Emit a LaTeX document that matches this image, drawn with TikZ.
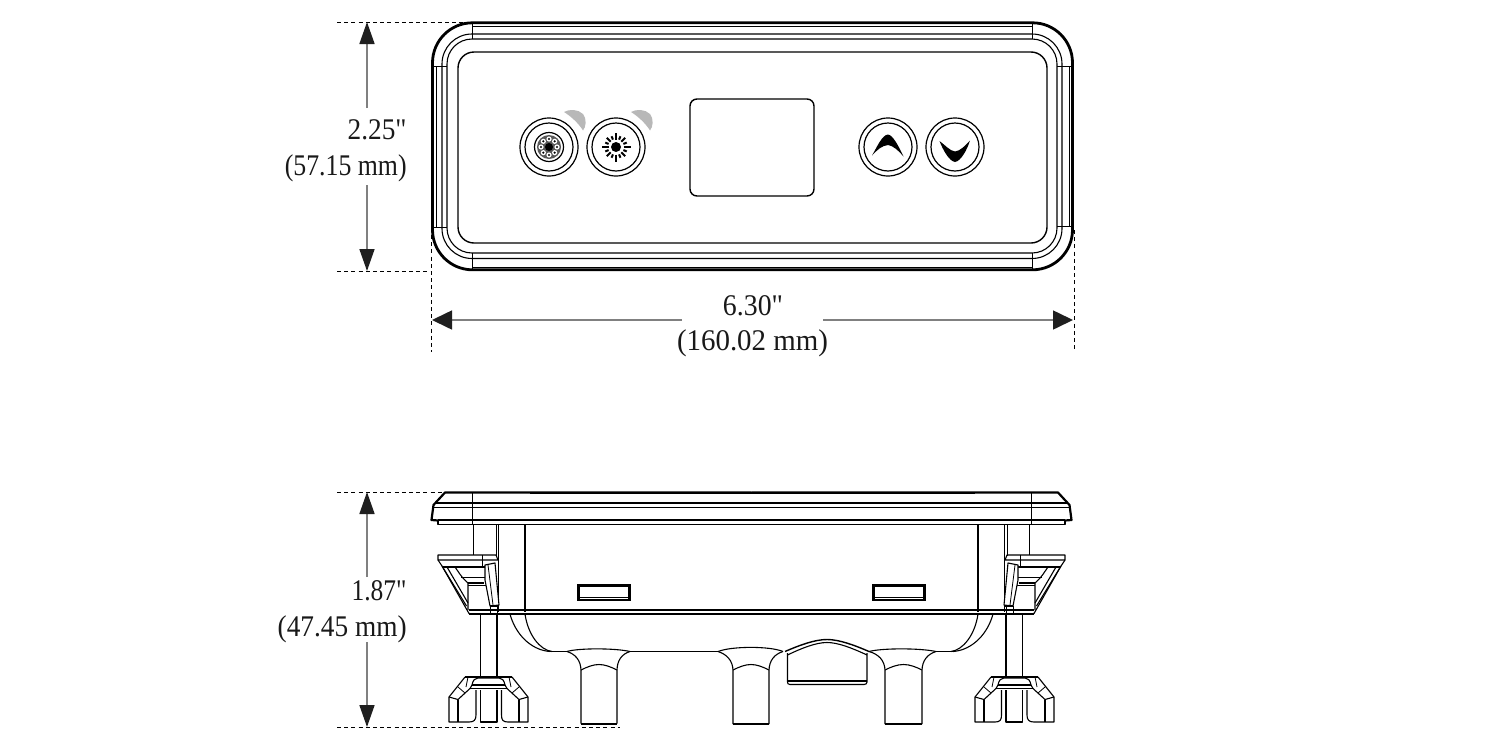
\documentclass[tikz,border=0pt]{standalone}
\usepackage{fontspec}
\usepackage{graphicx}
\newfontfamily\dimfont{Liberation Serif}
\usetikzlibrary{arrows.meta}
\tikzset{
  x=0.5pt,y=-0.5pt,
  thinl/.style={line width=0.55pt,black,line join=round},
  heavy/.style={line width=1.1pt,black,line join=round},
  hair/.style={line width=0.4pt,black,line join=round},
  dimdash/.style={line width=0.45pt,black,dash pattern=on 2pt off 1.6pt},
  dimline/.style={line width=0.8pt,black!50},
  vtip/.style={-{Triangle[length=11pt,width=7.5pt,color=black!88]}},
  htip/.style={-{Triangle[length=10pt,width=9.5pt,color=black!88]}},
  dimlabel/.style={font=\dimfont\fontsize{15}{17}\selectfont,inner sep=0pt,text=black!90},
  ringb/.style={line width=0.6pt,black,fill=white},
  ledmark/.style={fill=black!28,draw=none},
}
\newcommand{\halfside}{%
  % bezel
  \draw[heavy] (751.5,492.5) -- (445,492.5) -- (433.5,505) -- (431.5,520) -- (438,520.5);
  \draw[thinl] (438,520) -- (438,524.5) -- (751.5,524.5);
  \draw[thinl] (436,503) -- (751.5,503);
  \draw[thinl] (434,507.5) -- (751.5,507.5);
  \draw[thinl] (438,520) -- (751.5,520);
  \draw[hair] (472,492.5) -- (472,524.5);
  % body
  \draw[thinl] (473.5,524.5) -- (473.5,555);
  \draw[hair] (496,524.5) -- (496,556);
  \draw[hair] (498.8,524.5) -- (498.8,612);
  \draw[thinl] (525,524.5) -- (525,612);
  \draw[thinl] (469,610) -- (751.5,610);
  \draw[thinl] (469,614) -- (751.5,614);
  % window
  \draw[line width=1.1pt,fill=white] (578.5,585.5) rectangle (629.5,600);
  \draw[hair] (579,597) -- (629,597);
  % wing clip
  \draw[thinl] (438,555) -- (496,555) -- (498,560) -- (438,560) -- cycle;
  \draw[hair] (482.5,555) -- (482.5,567);
  \draw[thinl] (438,560) -- (442,566) -- (467,610) -- (469,613.5) -- (480,614);
  \draw[thinl] (442,566) -- (466.5,606);
  \draw[line width=0.8pt] (442,567) -- (485,567);
  \draw[thinl] (447,567) -- (468,603);
  \draw[thinl] (455,567) .. controls (458,571) and (461,577) .. (468,583) -- (468,610);
  \draw[thinl] (461,577.5) -- (486,577.5);
  \draw[thinl] (468,583) -- (484,583);
  \draw[thinl] (468,585.5) -- (486,585.5);
  % tab
  \draw[thinl,fill=white] (485,565) -- (495,563) -- (499,605) -- (490,606) -- (485,580) -- cycle;
  \draw[hair] (488,565) -- (493,605);
  \draw[line width=0.8pt] (490,606) -- (499,606);
  \draw[hair] (490,606) -- (490,613);
  \draw[hair] (497,606) -- (497,613);
  % post
  \draw[thinl] (480.7,614) -- (480.7,677);
  \draw[thinl] (497,614) -- (497,677);
  % foot
  \draw[thinl] (465,677) -- (512,677);
  \draw[thinl] (465,677) -- (449,697) -- (449,722) -- (469,722) .. controls (474,722) and (476,720) .. (476,715) -- (476,690);
  \draw[thinl] (512,677) -- (528,697) -- (528,722) -- (508,722) .. controls (503,722) and (501.5,720) .. (501.5,715) -- (501.5,690);
  \draw[thinl] (449,697) -- (458,699.5) -- (470,688.5);
  \draw[thinl] (528,697) -- (519,699.5) -- (507,688.5);
  \draw[thinl] (458,699.5) -- (458,722);
  \draw[thinl] (519,699.5) -- (519,722);
  \draw[thinl] (470,688.5) -- (507,688.5);
  \draw[thinl] (472,685) .. controls (473,680) and (475,678) .. (478,678) -- (499,678) .. controls (502,678) and (504,680) .. (505,685);
  \draw[thinl] (472,685) -- (505,685);
  \draw[thinl] (472,685) -- (470,688.5);
  \draw[thinl] (505,685) -- (507,688.5);
  \draw[hair] (468,677) -- (466,687);
  \draw[hair] (509,677) -- (511,687);
  \draw[hair] (458,687) -- (465,693);
  \draw[hair] (519,687) -- (512,693);
  \draw[thinl] (480.7,690) -- (480.7,722) -- (497,722) -- (497,690);
  % lower shell
  \draw[thinl] (510,614) .. controls (515,633) and (530,650) .. (550,651.5);
  \draw[thinl] (525,614) .. controls (528,635) and (540,650) .. (552,651.5);
  \draw[thinl] (550,651.5) -- (567,651.5);
}
\begin{document}
\begin{tikzpicture}
\useasboundingbox (0,0) rectangle (1500,750);
\fill[white] (0,0) rectangle (1500,750);

% ---------- top view ----------
\draw[line width=1.4pt,rounded corners=20pt] (432.5,22.8) rectangle (1072.5,269.8);
\draw[thinl,rounded corners=15pt] (442,34) rectangle (1062,258.5);
\draw[thinl,rounded corners=12.5pt] (447,39) rectangle (1057,253);
\draw[line width=0.7pt,rounded corners=8pt] (458,52) rectangle (1047,243);
\draw[hair] (472,22.8) -- (472,39);
\draw[hair] (1032,22.8) -- (1032,39);
\draw[hair] (472,253) -- (472,269.8);
\draw[hair] (1032,253) -- (1032,269.8);
\draw[hair] (432.5,66) -- (447,66);
\draw[hair] (432.5,227) -- (447,227);
\draw[hair] (1057,66) -- (1072.5,66);
\draw[hair] (1057,226) -- (1072.5,226);
\draw[line width=0.5pt] (436,66) -- (436,227);
\draw[line width=0.5pt] (1069,66) -- (1069,227);
\draw[line width=0.5pt] (472,26) -- (1032,26);
\draw[line width=0.5pt] (472,267) -- (1032,267);

% screen
\draw[line width=0.7pt,rounded corners=3.5pt] (690,99) rectangle (814,196);

% LED marks
\foreach \dx in {0,67}{
  \begin{scope}[xshift=\dx*0.5pt]
  \fill[ledmark] (564,112) .. controls (569,109) and (578,109) .. (583,114)
     .. controls (587,119) and (586,127) .. (583,130.5)
     .. controls (579,124) and (572,117) .. (564,112) -- cycle;
  \end{scope}
}
% buttons
\foreach \c in {549,616,888,955}{
  \draw[ringb] (\c,147) circle[radius=29];
  \draw[ringb] (\c,147) circle[radius=24];
}
% pattern core
\draw[line width=0.6pt] (549,147) circle[radius=14.5];
\fill[black!65] (549,147) circle[radius=12];
\foreach \a in {0,45,...,315}{
  \fill[white] (549,147) ++(\a:8) circle[radius=2.6];
  \fill[black] (549,147) ++(\a:8) circle[radius=1.2];
}
\fill[black] (549,147) circle[radius=4];
% sun
\fill[black] (616,147) circle[radius=5];
\foreach \a in {0,90,180,270}{
  \draw[line width=1pt] (616,147) ++(\a:7.5) -- ++(\a:7);
}
\foreach \a in {45,135,225,315}{
  \draw[line width=1pt] (616,147) ++(\a:7.5) -- ++(\a:5.5);
}
\foreach \a in {22.5,67.5,...,337.5}{
  \draw[line width=1pt] (616,147) ++(\a:8) -- ++(\a:3.6);
}
% chevrons
\fill[black] (872,155.5) .. controls (877,147) and (882,135) .. (888,134.5)
   .. controls (893,135) and (899,147) .. (903.5,156.5)
   .. controls (899,151) and (893,145.5) .. (888,145)
   .. controls (882,145.5) and (877,150) .. (872,155.5) -- cycle;
\fill[black] (939.5,141) .. controls (945,145) and (950,151) .. (955,151.5)
   .. controls (960,151) and (965,146) .. (970,140.5)
   .. controls (967,150) and (961,161) .. (955,162)
   .. controls (949,161) and (943,150) .. (939.5,141) -- cycle;

% ---------- dimensions ----------
\coordinate (ta) at (367,22);
\coordinate (tag) at (367,108);
\coordinate (tb) at (367,271);
\coordinate (tbg) at (367,185);
\draw[dimdash] (337,22) -- (470,22);
\draw[dimdash] (337,271) -- (432,271);
\draw[dimline,vtip] (tag) -- (ta);
\draw[dimline,vtip] (tbg) -- (tb);
\node[dimlabel,anchor=base east] (l1) at (407,139) {\scalebox{.91}[1]{2.25"}};
\node[dimlabel,anchor=base east] (l2) at (407,175) {\scalebox{.86}[1]{(57.15 mm)}};

\coordinate (wa) at (432,320);
\coordinate (wag) at (682,320);
\coordinate (wb) at (1073,320);
\coordinate (wbg) at (823,320);
\draw[dimdash] (431.5,235) -- (431.5,352);
\draw[dimdash] (1074,230) -- (1074,352);
\draw[dimline,htip] (wag) -- (wa);
\draw[dimline,htip] (wbg) -- (wb);
\node[dimlabel,anchor=base] (l3) at (753,315) {\scalebox{.927}[1]{6.30"}};
\node[dimlabel,anchor=base] (l4) at (752.5,350) {\scalebox{.964}[1]{(160.02 mm)}};

\coordinate (sa) at (367,492);
\coordinate (sag) at (367,577);
\coordinate (sb) at (367,727);
\coordinate (sbg) at (367,642);
\draw[dimdash] (337,492) -- (445,492);
\draw[dimdash] (337,727) -- (620,727);
\draw[dimline,vtip] (sag) -- (sa);
\draw[dimline,vtip] (sbg) -- (sb);
\node[dimlabel,anchor=base east] (l5) at (407,600) {\scalebox{.85}[1]{1.87"}};
\node[dimlabel,anchor=base east] (l6) at (407,636) {\scalebox{.91}[1]{(47.45 mm)}};

% ---------- side view ----------
\halfside
\begin{scope}[cm={-1,0,0,1,(1503,0)}]
\halfside
\end{scope}
\draw[line width=0.9pt] (530,492.6) -- (975,492.6);

% floor line between connectors
\draw[thinl] (630,651.5) -- (718,651.5);
% connector 1
\draw[thinl] (567,651.5) .. controls (578,648) and (615,648) .. (630,651.5);
\draw[thinl] (567,651.5) .. controls (575,654) and (581,660) .. (581,671) -- (581,723.5);
\draw[thinl] (630,651.5) .. controls (622,654) and (617,660) .. (617,671) -- (617,723.5);
\draw[line width=1pt] (581,723.5) -- (617,723.5);
\draw[thinl] (581,670) .. controls (587,667) and (593,664.5) .. (599,664.5) .. controls (605,664.5) and (611,667) .. (617,670);
% connector 2
\draw[thinl] (718,651.5) .. controls (732,646) and (770,646) .. (783,651.5);
\draw[thinl] (718,651.5) .. controls (726,654) and (733,660) .. (733,671) -- (733,724);
\draw[thinl] (783,651.5) .. controls (775,654) and (769,660) .. (769,671) -- (769,724);
\draw[line width=1pt] (733,724) -- (769,724);
\draw[thinl] (733,670) .. controls (739,667) and (745,664.5) .. (751,664.5) .. controls (757,664.5) and (763,667) .. (769,670);
% dome
\draw[line width=0.7pt] (785,651.5) .. controls (800,645) and (815,639.5) .. (827,639.5) .. controls (839,639.5) and (854,645) .. (869,651.5);
\draw[thinl] (787.5,655) .. controls (802,648) and (816,642.5) .. (827,642.5) .. controls (838,642.5) and (852,648) .. (867,655);
\draw[thinl] (787.5,653) -- (787.5,682) .. controls (787.5,683.5) and (788,684.5) .. (790,684.5) -- (864,684.5) .. controls (866,684.5) and (867,683.5) .. (867,682) -- (867,653);
\draw[line width=0.8pt] (788,681) -- (866.5,681);
% connector 3
\draw[thinl] (869,651.5) .. controls (882,648) and (920,648) .. (936,651.5);
\draw[thinl] (869,651.5) .. controls (878,654) and (885,660) .. (885,671) -- (885,724);
\draw[thinl] (936,651.5) .. controls (928,654) and (922,660) .. (922,671) -- (922,724);
\draw[line width=1pt] (885,724) -- (922,724);
\draw[thinl] (885,670) .. controls (891,667) and (897,664.5) .. (903.5,664.5) .. controls (910,664.5) and (916,667) .. (922,670);
\end{tikzpicture}
\end{document}
